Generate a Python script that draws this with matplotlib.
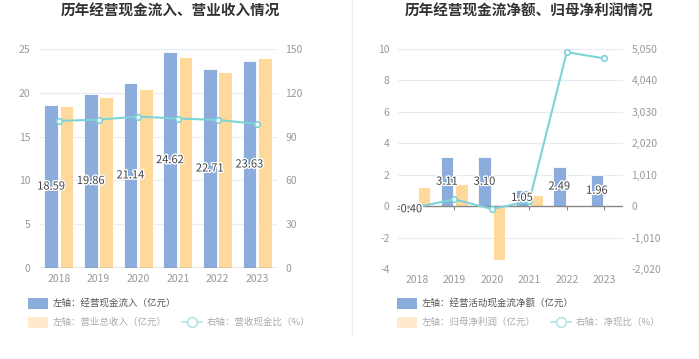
import matplotlib
matplotlib.use('Agg')
import matplotlib.pyplot as plt
import matplotlib.patheffects as pe
from matplotlib.patches import Rectangle
from matplotlib.lines import Line2D
from matplotlib.ticker import FuncFormatter
import numpy as np

plt.rcParams['font.family'] = ['Noto Sans CJK SC', 'DejaVu Sans']
plt.rcParams['axes.unicode_minus'] = False

years = ['2018', '2019', '2020', '2021', '2022', '2023']

# left panel
cash_in = [18.59, 19.86, 21.14, 24.62, 22.71, 23.63]
revenue = [18.45, 19.55, 20.38, 24.05, 22.39, 23.94]
cash_ratio = [100.76, 101.59, 103.73, 102.37, 101.43, 98.71]

# right panel
net_cash = [-0.40, 3.11, 3.10, 1.05, 2.49, 1.96]
net_profit = [1.25, 1.42, -3.44, 0.68, 0.0503, 0.0413]
profit_ratio = [-32, 219, -90, 154, 4950, 4747]

BLUE = '#8cacdb'
YELLOW = '#ffd99b'
CYAN = '#7dd3d8'
GRID = '#e6ebf5'
TICK = '#999999'

W, H = 699, 359
fig = plt.figure(figsize=(W / 100, H / 100), dpi=100)


def box(x0, x1, y0, y1):
    return [x0 / W, 1 - y1 / H, (x1 - x0) / W, (y1 - y0) / H]


def style(ax, ax2):
    for a in (ax, ax2):
        for s in a.spines.values():
            s.set_visible(False)
        a.tick_params(axis='y', length=0, labelsize=7.5, labelcolor=TICK, pad=6)
    ax.tick_params(axis='x', labelsize=7.5, labelcolor=TICK, length=0, pad=4)
    ax.grid(axis='y', color=GRID, linewidth=0.8)
    ax.set_axisbelow(True)
    ax2.set_zorder(ax.get_zorder() + 1)
    ax2.patch.set_visible(False)


def bar_labels(ax, vals, xs, scale):
    # labels sit at half bar height, drawn on the twin axis so they stay on top
    for xi, v in zip(xs, vals):
        ax.text(xi, v / 2 * scale, f'{v:.2f}', ha='center', va='center', fontsize=8,
                color='#444444', zorder=6,
                path_effects=[pe.withStroke(linewidth=2, foreground='white')])


x = np.arange(len(years))
bw = 0.34
off = 0.195

# ---- left chart
ax1 = fig.add_axes(box(39, 277, 49, 268))
ax1b = ax1.twinx()
ax1.bar(x - off, cash_in, bw, color=BLUE, edgecolor='white', linewidth=0.6, zorder=2)
ax1.bar(x + off, revenue, bw, color=YELLOW, edgecolor='white', linewidth=0.6, zorder=2)
ax1.set_ylim(0, 25)
ax1.set_yticks(range(0, 26, 5))
ax1.set_xlim(-0.5, 5.5)
ax1.set_xticks(x, years)
ax1.axhline(0, color='#888888', linewidth=1, zorder=3)
ax1b.plot(x, cash_ratio, color=CYAN, linewidth=1.5, marker='o', markersize=4,
          markerfacecolor='white', markeredgecolor=CYAN, markeredgewidth=1.2, zorder=5)
ax1b.set_ylim(0, 150)
ax1b.set_yticks(range(0, 151, 30))
style(ax1, ax1b)
bar_labels(ax1b, cash_in, x - off, 150 / 25)

# ---- right chart
ax2 = fig.add_axes(box(398, 623, 49, 269))
ax2b = ax2.twinx()
ax2.bar(x - off, net_cash, bw, color=BLUE, edgecolor='white', linewidth=0.6, zorder=2)
ax2.bar(x + off, net_profit, bw, color=YELLOW, edgecolor='white', linewidth=0.6, zorder=2)
ax2.set_ylim(-4, 10)
ax2.set_yticks(range(-4, 11, 2))
ax2.set_xlim(-0.5, 5.5)
ax2.set_xticks(x, years)
ax2.axhline(0, color='#888888', linewidth=1, zorder=3)
ax2.vlines(x, -0.25, 0, color='#888888', linewidth=0.8, zorder=3)
ax2b.plot(x, profit_ratio, color=CYAN, linewidth=1.5, marker='o', markersize=4,
          markerfacecolor='white', markeredgecolor=CYAN, markeredgewidth=1.2, zorder=5)
ax2b.set_ylim(-2020, 5050)
ax2b.set_yticks(range(-2020, 5051, 1010))
ax2b.yaxis.set_major_formatter(FuncFormatter(lambda v, p: f'{int(v):,}'))
style(ax2, ax2b)
bar_labels(ax2b, net_cash, x - off, 7070 / 14)

# ---- titles
fig.text(170 / W, 1 - 11 / H, '历年经营现金流入、营业收入情况', ha='center', va='center',
         fontsize=10.5, fontweight='bold', color='#333333')
fig.text(529 / W, 1 - 11 / H, '历年经营现金流净额、归母净利润情况', ha='center', va='center',
         fontsize=10.5, fontweight='bold', color='#333333')

# divider
fig.add_artist(Line2D([352 / W, 352 / W], [1 - 335 / H, 1], color='#eeeeee', linewidth=1))


# ---- legends
def legend_row(x0, y, items):
    xx = x0
    for kind, color, label, tcolor in items:
        if kind == 'patch':
            fig.add_artist(Rectangle((xx / W, 1 - (y + 5.5) / H), 20 / W, 11 / H,
                                     facecolor=color, edgecolor='none',
                                     transform=fig.transFigure))
        else:
            fig.add_artist(Line2D([xx / W, (xx + 20) / W], [1 - y / H, 1 - y / H],
                                  color=color, linewidth=1.3))
            fig.add_artist(Line2D([(xx + 10) / W], [1 - y / H], marker='o',
                                  markersize=7, markerfacecolor='white',
                                  markeredgecolor=color, markeredgewidth=1.2))
        t = fig.text((xx + 25) / W, 1 - y / H, label, ha='left', va='center',
                     fontsize=6.8, color=tcolor)
        fig.canvas.draw()
        xx = t.get_window_extent().x1 + 15


legend_row(28, 303, [('patch', BLUE, '左轴：经营现金流入（亿元）', '#555555')])
legend_row(28, 322, [('patch', '#ffebcc', '左轴：营业总收入（亿元）', '#aaaaaa'),
                     ('line', '#b5e5e8', '右轴：营收现金比（%）', '#aaaaaa')])
legend_row(397, 303, [('patch', BLUE, '左轴：经营活动现金流净额（亿元）', '#555555')])
legend_row(397, 322, [('patch', '#ffebcc', '左轴：归母净利润（亿元）', '#aaaaaa'),
                      ('line', '#b5e5e8', '右轴：净现比（%）', '#aaaaaa')])

fig.savefig('out.png', dpi=100)
